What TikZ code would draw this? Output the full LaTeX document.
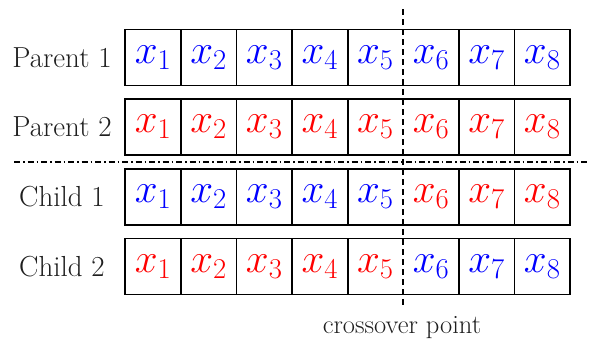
\RequirePackage{fix-cm}
\documentclass[tikz,border=0pt]{standalone}
\usetikzlibrary{positioning}
\begin{document}
\begin{tikzpicture}[x=1pt,y=-1pt,
  cell/.style={minimum width=55.6pt,minimum height=55.5pt,inner sep=0pt,anchor=north west,font=\fontsize{41}{48}\selectfont},
  rowlabel/.style={font=\fontsize{29}{34}\selectfont,text=black!88,inner sep=0pt},
  border/.style={line width=1.5pt},
  crossline/.style={line width=1.3pt,dash pattern=on 6pt off 4pt},
  sepline/.style={line width=1.3pt,dash pattern=on 6pt off 3pt on 1.5pt off 3pt}]
\useasboundingbox (0,0) rectangle (592,340);
\foreach \r/\ty/\ca/\cb/\lab in {p1/29.5/blue/blue/Parent 1, p2/99/red/red/Parent 2, c1/169/blue/red/Child 1, c2/238.5/red/blue/Child 2}{
  \foreach \i in {1,...,8}{
    \pgfmathsetmacro{\xx}{125+(\i-1)*55.6}
    \ifnum\i<6
      \node[cell,text=\ca] (\r-\i) at (\xx,\ty) {$x_{\i}$};
    \else
      \node[cell,text=\cb] (\r-\i) at (\xx,\ty) {$x_{\i}$};
    \fi
  }
  \draw[border] (\r-1.north west) rectangle (\r-8.south east);
  \foreach \i in {1,2,3,4,6,7}{
    \draw[border] (\r-\i.north east) -- (\r-\i.south east);
  }
  \node[rowlabel] (\r-label) at (62,\ty+27.75) {\lab};
}
\coordinate (ctop) at (403,9);
\coordinate (cbot) at (403,308);
\draw[crossline] (ctop) -- (cbot);
\node[font=\fontsize{26.5}{30}\selectfont,text=black!88,inner sep=0pt] (cp) at (402,328) {crossover point};
\coordinate (sl) at (14,162);
\coordinate (sr) at (590,162);
\draw[sepline] (sl) -- (sr);
\end{tikzpicture}
\end{document}
